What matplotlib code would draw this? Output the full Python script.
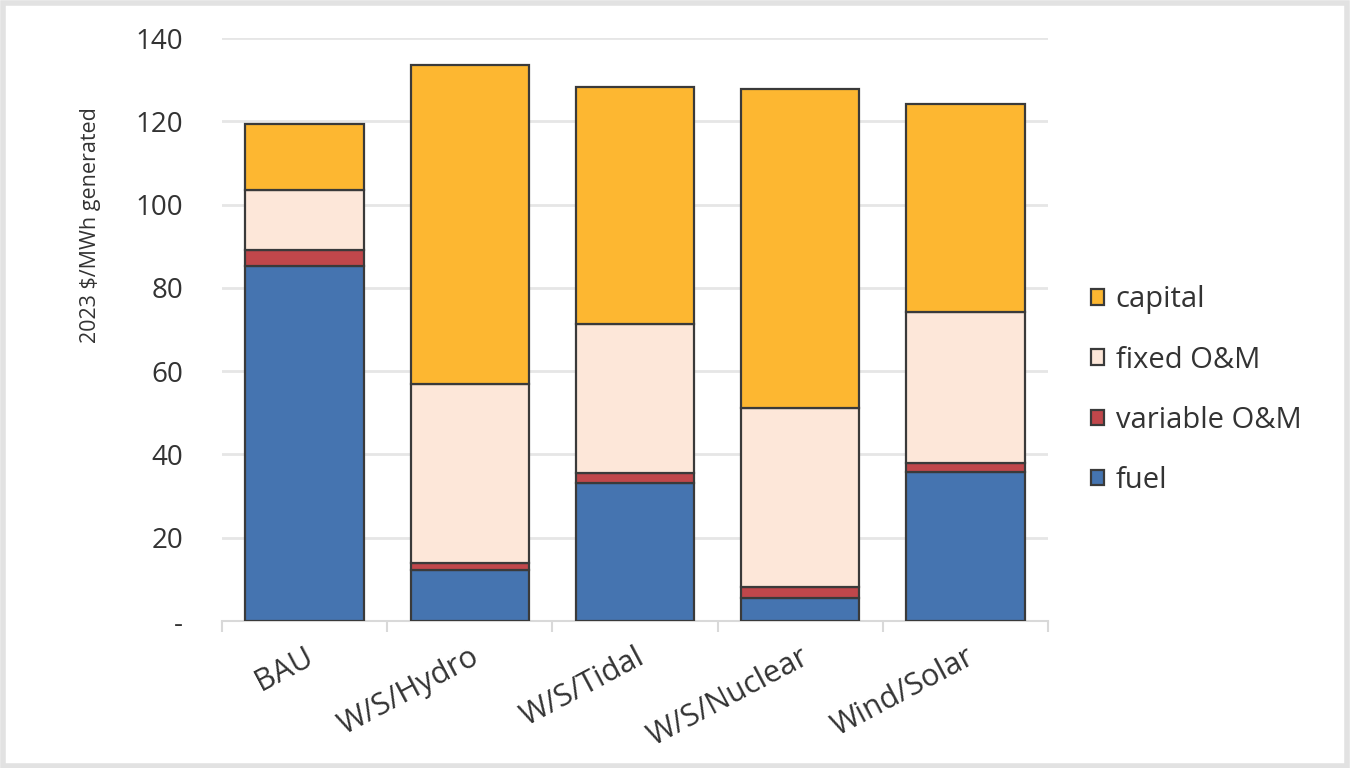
import matplotlib
matplotlib.use("Agg")
import matplotlib.pyplot as plt
import numpy as np

categories = ["BAU", "W/S/Hydro", "W/S/Tidal", "W/S/Nuclear", "Wind/Solar"]
fuel = [85.2, 12.3, 33.1, 5.6, 35.8]
variable_om = [3.8, 1.7, 2.5, 2.6, 2.2]
fixed_om = [14.5, 42.9, 35.7, 43.0, 36.3]
capital = [15.8, 76.5, 57.0, 76.6, 49.8]
series_names = ["fuel", "variable O&M", "fixed O&M", "capital"]
y_ticks = [0, 20, 40, 60, 80, 100, 120, 140]
y_tick_labels = ["-", "20", "40", "60", "80", "100", "120", "140"]

colors = ["#4574B0", "#C0474B", "#FDE7D9", "#FDB731"]
text_color = "#333333"

plt.rcParams['font.family'] = ['Open Sans', 'DejaVu Sans']

fig = plt.figure(figsize=(13.5, 7.68), dpi=100)
fig.patch.set_facecolor("white")
frame = plt.Rectangle((0.002, 0.002), 0.996, 0.994, transform=fig.transFigure,
                      fill=False, edgecolor="#e2e2e2", linewidth=4)
fig.patches.append(frame)

ax = fig.add_axes([0.1644, 0.1914, 0.612, 0.7591])
x = np.arange(len(categories))
bottom = np.zeros(len(categories))
handles = []
for name, vals, c in zip(series_names, [fuel, variable_om, fixed_om, capital], colors):
    b = ax.bar(x, vals, bottom=bottom, width=0.715, color=c, edgecolor="#3a3a3a",
               linewidth=1.6, label=name, zorder=3)
    handles.append(b)
    bottom = bottom + np.array(vals)

ax.set_xlim(-0.5, len(categories) - 0.5)
ax.set_ylim(0, 140)
ax.set_yticks(y_ticks)
ax.set_yticklabels(y_tick_labels, fontsize=20, color=text_color)
ax.yaxis.grid(True, color="#e6e6e6", linewidth=2, zorder=0)
ax.tick_params(axis="y", length=0, pad=28)

ax.set_xticks(x)
ax.set_xticklabels(categories, rotation=28, ha="right", rotation_mode="anchor",
                   fontsize=22, color=text_color)
ax.tick_params(axis="x", length=0, pad=15)
ax.set_xticks(np.arange(-0.5, len(categories), 1.0), minor=True)
ax.tick_params(axis="x", which="minor", length=8, color="#d9d9d9", width=1.5)

for s in ["top", "right", "left"]:
    ax.spines[s].set_visible(False)
ax.spines["bottom"].set_color("#d9d9d9")
ax.spines["bottom"].set_linewidth(1.5)

ax.set_ylabel("2023 $/MWh generated", fontsize=15.5, color=text_color)
ax.yaxis.set_label_coords(-0.1465, 0.68)

leg = ax.legend(handles[::-1], series_names[::-1], loc="center left",
                bbox_to_anchor=(1.02, 0.396), frameon=False, fontsize=21,
                handlelength=0.45, handleheight=0.45, handletextpad=0.4,
                labelspacing=1.07, labelcolor=text_color)

fig.savefig("out.png", dpi=100)
